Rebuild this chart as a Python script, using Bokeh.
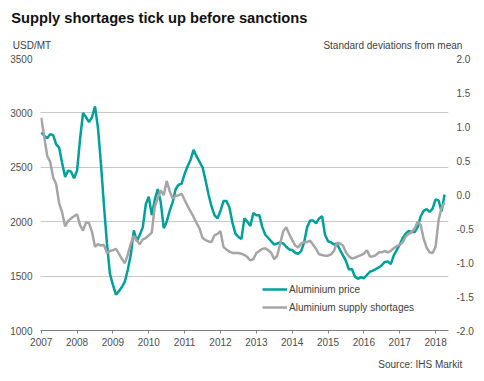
from bokeh.plotting import figure
from bokeh.models import (Range1d, LinearAxis, FixedTicker, NumeralTickFormatter,
                          Title, Legend, LegendItem)
from bokeh.embed import file_html
from bokeh.resources import INLINE

# Monthly data, Jan 2007 - Apr 2018
start_year = 2007
price = [2820, 2790, 2767, 2805, 2795, 2710, 2680, 2540, 2410, 2470, 2460, 2400,
         2470, 2760, 3000, 2960, 2915, 2960, 3060, 2860, 2530, 2150, 1800, 1520,
         1420, 1330, 1360, 1400, 1450, 1560, 1700, 1920, 1820, 1880, 1950, 2160,
         2230, 2060, 2200, 2300, 2180, 1940, 2000, 2100, 2180, 2300, 2340, 2350,
         2440, 2510, 2570, 2660, 2600, 2550, 2500, 2380, 2250, 2140, 2060, 2030,
         2100, 2190, 2190, 2130, 1990, 1890, 1860, 1840, 2030, 2000, 1960, 2080,
         2060, 2060, 1950, 1880, 1850, 1820, 1790, 1800, 1810, 1800, 1770, 1745,
         1740, 1715, 1705, 1730, 1810, 1950, 2010, 2010, 1985, 2030, 2050, 1880,
         1820, 1810, 1790, 1800, 1740, 1690, 1640, 1560, 1565, 1495, 1475, 1490,
         1480, 1510, 1540, 1550, 1565, 1580, 1600, 1630, 1635, 1610, 1690, 1740,
         1790, 1850, 1890, 1915, 1905, 1905, 1950, 2050, 2100, 2115, 2090, 2120,
         2205, 2195, 2095, 2250]
shortage = [1.13, 0.85, 0.57, 0.48, 0.25, 0.15, -0.13, -0.26, -0.47, -0.39, -0.35, -0.32,
            -0.29, -0.45, -0.53, -0.41, -0.42, -0.55, -0.77, -0.73, -0.75, -0.74, -0.86, -0.83,
            -0.82, -0.80, -0.87, -0.95, -1.01, -0.88, -0.72, -0.61, -0.68, -0.73, -0.66, -0.64,
            -0.60, -0.56, -0.18, -0.06, 0.06, -0.01, 0.20, 0.05, -0.06, -0.02, -0.01, 0.01,
            -0.08, -0.17, -0.25, -0.33, -0.42, -0.50, -0.64, -0.67, -0.69, -0.70, -0.60, -0.58,
            -0.54, -0.77, -0.81, -0.84, -0.86, -0.86, -0.86, -0.87, -0.89, -0.92, -0.97, -0.95,
            -0.86, -0.83, -0.80, -0.79, -0.82, -0.86, -0.95, -0.90, -0.72, -0.54, -0.48, -0.58,
            -0.67, -0.75, -0.78, -0.72, -0.70, -0.70, -0.68, -0.74, -0.80, -0.88, -0.89, -0.90,
            -0.90, -0.88, -0.83, -0.71, -0.72, -0.75, -0.85, -0.91, -0.94, -0.93, -0.91, -0.89,
            -0.87, -0.82, -0.91, -0.91, -0.89, -0.85, -0.85, -0.83, -0.85, -0.83, -0.79, -0.76,
            -0.74, -0.70, -0.62, -0.58, -0.55, -0.50, -0.40, -0.45, -0.65, -0.78, -0.85, -0.86,
            -0.77, -0.38, -0.19, -0.12]
years = list(range(2007, 2019))
price_ticks = [1000, 1500, 2000, 2500, 3000, 3500]
sd_ticks = [-2.0, -1.5, -1.0, -0.5, 0.0, 0.5, 1.0, 1.5, 2.0]

x = [start_year + i / 12 for i in range(len(price))]

FONT = "Liberation Sans"
TEAL = "#00A19A"
GREY = "#A5A5A5"

p = figure(width=484, height=381, x_range=Range1d(2006.98, 2018.36),
           y_range=Range1d(1000, 3500), output_backend="svg", toolbar_location=None,
           min_border_left=40, min_border_right=36, min_border_top=58, min_border_bottom=51)
p.outline_line_color = None
p.background_fill_color = "white"
p.border_fill_color = "white"
p.extra_y_ranges = {"sd": Range1d(-2, 2)}

# x axis
p.xaxis.ticker = FixedTicker(ticks=years)
p.xaxis.axis_line_color = "#808080"
p.xaxis.major_tick_line_color = "#808080"
p.xaxis.major_tick_out = 3
p.xaxis.major_tick_in = 0
p.xaxis.minor_tick_line_color = None
p.xaxis.major_label_standoff = 4
p.xaxis.major_label_text_font = FONT
p.xaxis.major_label_text_font_size = "10px"
p.xaxis.major_label_text_color = "#4d4d4d"
p.xgrid.grid_line_color = None

# left axis
p.yaxis.ticker = FixedTicker(ticks=price_ticks)
p.yaxis.axis_line_color = None
p.yaxis.major_tick_line_color = None
p.yaxis.minor_tick_line_color = None
p.yaxis.major_tick_out = 0
p.yaxis.major_label_standoff = 8
p.yaxis.major_label_text_font = FONT
p.yaxis.major_label_text_font_size = "10px"
p.yaxis.major_label_text_color = "#4d4d4d"
p.ygrid.ticker = FixedTicker(ticks=price_ticks[1:])
p.ygrid.grid_line_color = "#c8c8c8"
p.ygrid.grid_line_width = 1

# right axis
ax2 = LinearAxis(y_range_name="sd", ticker=FixedTicker(ticks=sd_ticks),
                 formatter=NumeralTickFormatter(format="0.0"))
ax2.axis_line_color = None
ax2.major_tick_line_color = None
ax2.minor_tick_line_color = None
ax2.major_tick_out = 0
ax2.major_label_standoff = 8
ax2.major_label_text_font = FONT
ax2.major_label_text_font_size = "10px"
ax2.major_label_text_color = "#4d4d4d"
p.add_layout(ax2, "right")

r1 = p.line(x, price, color=TEAL, line_width=2.5)
r2 = p.line(x, shortage, y_range_name="sd", color=GREY, line_width=2.5)

legend = Legend(items=[LegendItem(label="Aluminium price", renderers=[r1]),
                       LegendItem(label="Aluminium supply shortages", renderers=[r2])],
                location=(222, 14), glyph_width=25, glyph_height=18, label_height=18,
                spacing=0, padding=0, margin=0, label_standoff=2,
                border_line_color=None, background_fill_alpha=0,
                label_text_font=FONT, label_text_font_size="10px",
                label_text_color="#404040")
p.add_layout(legend)

NB = "\u00a0"
subtitle = Title(text="USD/MT" + NB * 98 + "Standard deviations from mean",
                 align="left", offset=-27.7, standoff=15,
                 text_font=FONT, text_font_size="10px", text_font_style="normal",
                 text_color="#404040")
p.add_layout(subtitle, "above")
main_title = Title(text="Supply shortages tick up before sanctions",
                   align="left", offset=-29.3, standoff=9,
                   text_font=FONT, text_font_size="14.7px", text_font_style="bold",
                   text_color="#111111")
p.add_layout(main_title, "above")
source = Title(text="Source: IHS Markit", align="right", offset=-13.7, standoff=17,
               text_font=FONT, text_font_size="10px", text_font_style="normal",
               text_color="#404040")
p.add_layout(source, "below")

open("out.html", "w").write(file_html(p, INLINE))
